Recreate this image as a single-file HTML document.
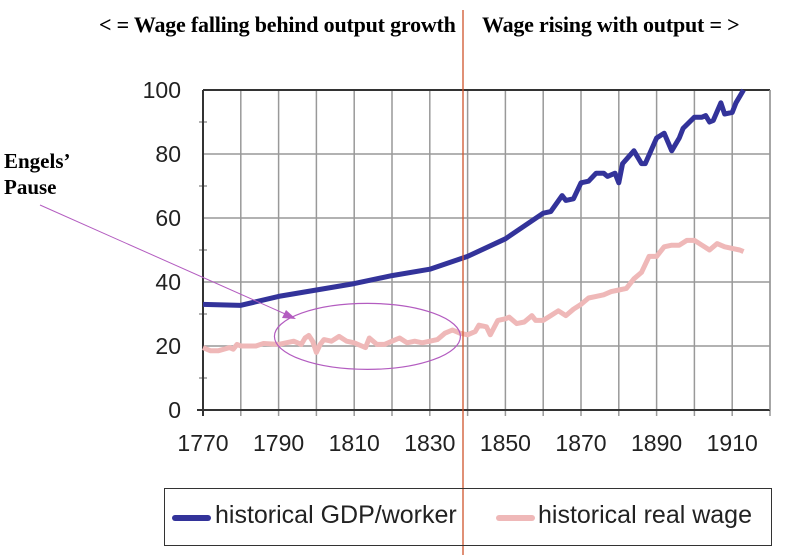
<!DOCTYPE html>
<html><head><meta charset="utf-8"><style>
body{margin:0;background:#fff;}
svg{display:block;}
.ax{font-family:"Liberation Sans",sans-serif;font-size:23px;fill:#222;}
</style></head><body>
<svg id="chart" width="792" height="555">
<g id="grid"></g>
<g id="lines"></g>
<g id="labels"></g>
</svg>
<script>
const gdpYears=[1770,1780,1790,1800,1810,1820,1830,1840,1850,1860,1862,1865,1866,1868,1870,1872,1874,1876,1877,1879,1880,1881,1884,1886,1887,1890,1892,1894,1896,1897,1900,1902,1903,1904,1905,1907,1908,1910,1911,1913];
const gdpValues=[33,32.7,35.5,37.5,39.5,42,44,48,53.5,61.5,62,67,65.5,66,71,71.5,74,74,73,74,71,77,81,77,77,85,86.5,81,85,88,91.5,91.5,92,90,90.5,96,92.5,93,96,100];
const wageYears=[1770,1772,1774,1777,1778,1779,1780,1784,1786,1790,1792,1794,1796,1797,1798,1799,1800,1801,1802,1804,1806,1808,1810,1812,1813,1814,1816,1818,1820,1822,1824,1826,1828,1830,1832,1834,1836,1838,1840,1842,1843,1845,1846,1848,1850,1851,1853,1855,1857,1858,1860,1862,1864,1866,1868,1870,1872,1874,1876,1878,1880,1882,1884,1886,1888,1890,1892,1894,1896,1898,1900,1902,1904,1906,1908,1910,1912,1913];
const wageValues=[19.5,18.5,18.5,19.5,19,20.5,20,20,20.8,20.5,21,21.5,20.5,22.5,23.3,21.5,18,20.5,22,21.5,23,21.5,21,20,19.5,22.5,20.5,20.5,21.5,22.5,21,21.5,21,21.5,22,24,25,24,23.5,24.5,26.5,26,23.5,28,28.5,29,27,27.5,29.5,28,28,29.5,31,29.5,31.5,33,35,35.5,36,37,37.5,38,41,43,48,48,51,51.5,51.5,53,53,51.5,50,52,51,50.5,50,49.5];
const xTicks=[1770,1790,1810,1830,1850,1870,1890,1910];
const yTicks=[0,20,40,60,80,100];
const X0=203,X1=770,Y0=410,Y1=90;
const xs=y=>X0+(y-1770)/150*(X1-X0);
const ys=v=>Y0-v/100*(Y0-Y1);
const NS="http://www.w3.org/2000/svg";
function mk(t,a,p){const e=document.createElementNS(NS,t);for(const k in a)e.setAttribute(k,a[k]);p.appendChild(e);return e;}
const grid=document.getElementById('grid'),lines=document.getElementById('lines'),labels=document.getElementById('labels');
for(let yr=1780;yr<=1920;yr+=10){const l=mk('line',{x1:xs(yr),x2:xs(yr),y1:Y1,y2:Y0+6,stroke:'#999','stroke-width':1.5},grid);

}
for(let v=10;v<=100;v+=10){const major=v%20===0;const l=mk('line',{x1:major?X0:X0-4,x2:major?X1:X0+4,y1:ys(v),y2:ys(v),stroke:'#999','stroke-width':1.5},grid);

}
const ya=mk('line',{x1:X0,x2:X0,y1:Y1,y2:Y0+6,stroke:'#333','stroke-width':2},grid);


const xa=mk('line',{x1:X0-6,x2:X1,y1:Y0,y2:Y0,stroke:'#333','stroke-width':2},grid);


const tb=mk('line',{x1:X0,x2:X1,y1:Y1,y2:Y1,stroke:'#333','stroke-width':2},grid);


const rb=mk('line',{x1:X1,x2:X1,y1:Y1,y2:Y0,stroke:'#999','stroke-width':1.5},grid);


yTicks.forEach(v=>{const t=mk('text',{x:X0-22,y:ys(v)+8,'text-anchor':'end',class:'ax'},labels);t.textContent=v;

});
xTicks.forEach(v=>{const t=mk('text',{x:xs(v),y:Y0+41,'text-anchor':'middle',class:'ax'},labels);t.textContent=v;

});
const wl=mk('polyline',{points:wageYears.map((y,i)=>xs(y)+','+ys(wageValues[i])).join(' '),fill:'none',stroke:'#efb8b8','stroke-width':5,'stroke-linejoin':'round'},lines);


const gl=mk('polyline',{points:gdpYears.map((y,i)=>xs(y)+','+ys(gdpValues[i])).join(' '),fill:'none',stroke:'#33339a','stroke-width':5,'stroke-linejoin':'round'},lines);


const el=mk('ellipse',{cx:xs(1813.5),cy:ys(23),rx:93,ry:33,fill:'none',stroke:'#b35cc0','stroke-width':1.2},lines);


const ar=mk('line',{x1:40,y1:205,x2:292,y2:317,stroke:'#b35cc0','stroke-width':1},lines);


const ah=mk('polygon',{points:'296,319 282,318 286,310',fill:'#b35cc0'},lines);


const rl=mk('line',{x1:463,x2:463,y1:10,y2:555,stroke:'#d0542c','stroke-width':1.3},lines);


</script>
<div style="position:absolute;left:0;top:0;width:792px;height:555px;pointer-events:none">
<div style="position:absolute;left:99px;top:12px;font:bold 22px 'Liberation Serif',serif;letter-spacing:-0.2px;white-space:nowrap">&lt; = Wage falling behind output growth</div>
<div style="position:absolute;left:482px;top:12px;font:bold 22px 'Liberation Serif',serif;letter-spacing:-0.2px;white-space:nowrap">Wage rising with output = &gt;</div>
<div style="position:absolute;left:4px;top:148px;font:bold 21px 'Liberation Serif',serif;line-height:26px">Engels’<br>Pause</div>
<div style="position:absolute;left:164px;top:488px;width:608px;height:58px;border:1.5px solid #333;box-sizing:border-box;font:25px 'Liberation Sans',sans-serif;color:#222">
<span style="position:absolute;left:7px;top:26px;width:39px;height:6px;border-radius:3px;background:#33339a"></span>
<span style="position:absolute;left:50px;top:12px">historical GDP/worker</span>
<span style="position:absolute;left:331px;top:26px;width:39px;height:6px;border-radius:3px;background:#efb8b8"></span>
<span style="position:absolute;left:373px;top:12px">historical real wage</span>
</div>
</div>
</body></html>
